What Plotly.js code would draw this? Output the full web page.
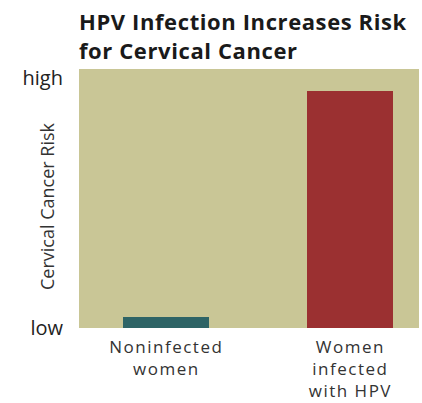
<!DOCTYPE html>
<html>
<head>
<meta charset="utf-8">
<script src="https://cdn.plot.ly/plotly-3.0.1.min.js"></script>
<style>
html,body{margin:0;padding:0;background:#fff;}
#chart .xtick text{letter-spacing:1.5px;}
#chart .gtitle{letter-spacing:0.6px;}
</style>
</head>
<body>
<div id="chart" style="width:422px;height:403px;"></div>
<script>
const categories = ["Noninfected<br>women", "Women<br>infected<br>with HPV"];
const riskValues = [0.043, 0.948];
const barColors = ["#2e6466", "#9b3031"];
const yTickVals = [0, 1];
const yTickText = ["low", "high"];
const yAxisTitle = "Cervical Cancer Risk";

const trace = {
  type: "bar",
  x: [0, 1],
  y: riskValues,
  width: 0.467,
  marker: {color: barColors, line: {width: 0}},
  hoverinfo: "none"
};

const layout = {
  width: 422,
  height: 403,
  margin: {l: 79, r: 3, t: 69, b: 75, pad: 0},
  paper_bgcolor: "#ffffff",
  plot_bgcolor: "#c9c696",
  showlegend: false,
  font: {family: "Open Sans, sans-serif", color: "#333333"},
  title: {
    text: "<b>HPV Infection Increases Risk<br>for Cervical Cancer</b>",
    font: {family: "Open Sans, sans-serif", size: 22, color: "#1a1a1a"},
    x: 0, xref: "paper", xanchor: "left",
    y: 1 - 30/403, yref: "container", yanchor: "top"
  },
  xaxis: {
    range: [-0.4745, 1.373],
    tickvals: [0, 1],
    ticktext: categories,
    tickfont: {size: 17, color: "#333333"},
    ticklabelstandoff: 7,
    showgrid: false, zeroline: false, showline: false,
    ticks: "", fixedrange: true
  },
  yaxis: {
    range: [0, 1.036],
    tickvals: yTickVals,
    ticktext: yTickText,
    tickfont: {size: 20, color: "#222222"},
    ticklabelstandoff: 15,
    showgrid: false, zeroline: false, showline: false,
    ticks: "", fixedrange: true
  },
  annotations: [{
    text: yAxisTitle,
    xref: "paper", yref: "paper",
    x: (47 - 79) / 340, y: (328 - 206) / 259,
    xanchor: "center", yanchor: "middle",
    textangle: -90, showarrow: false,
    font: {family: "Open Sans, sans-serif", size: 18, color: "#333333"}
  }],
  bargap: 0
};

Plotly.newPlot("chart", [trace], layout, {displayModeBar: false, staticPlot: true});
</script>
</body>
</html>
